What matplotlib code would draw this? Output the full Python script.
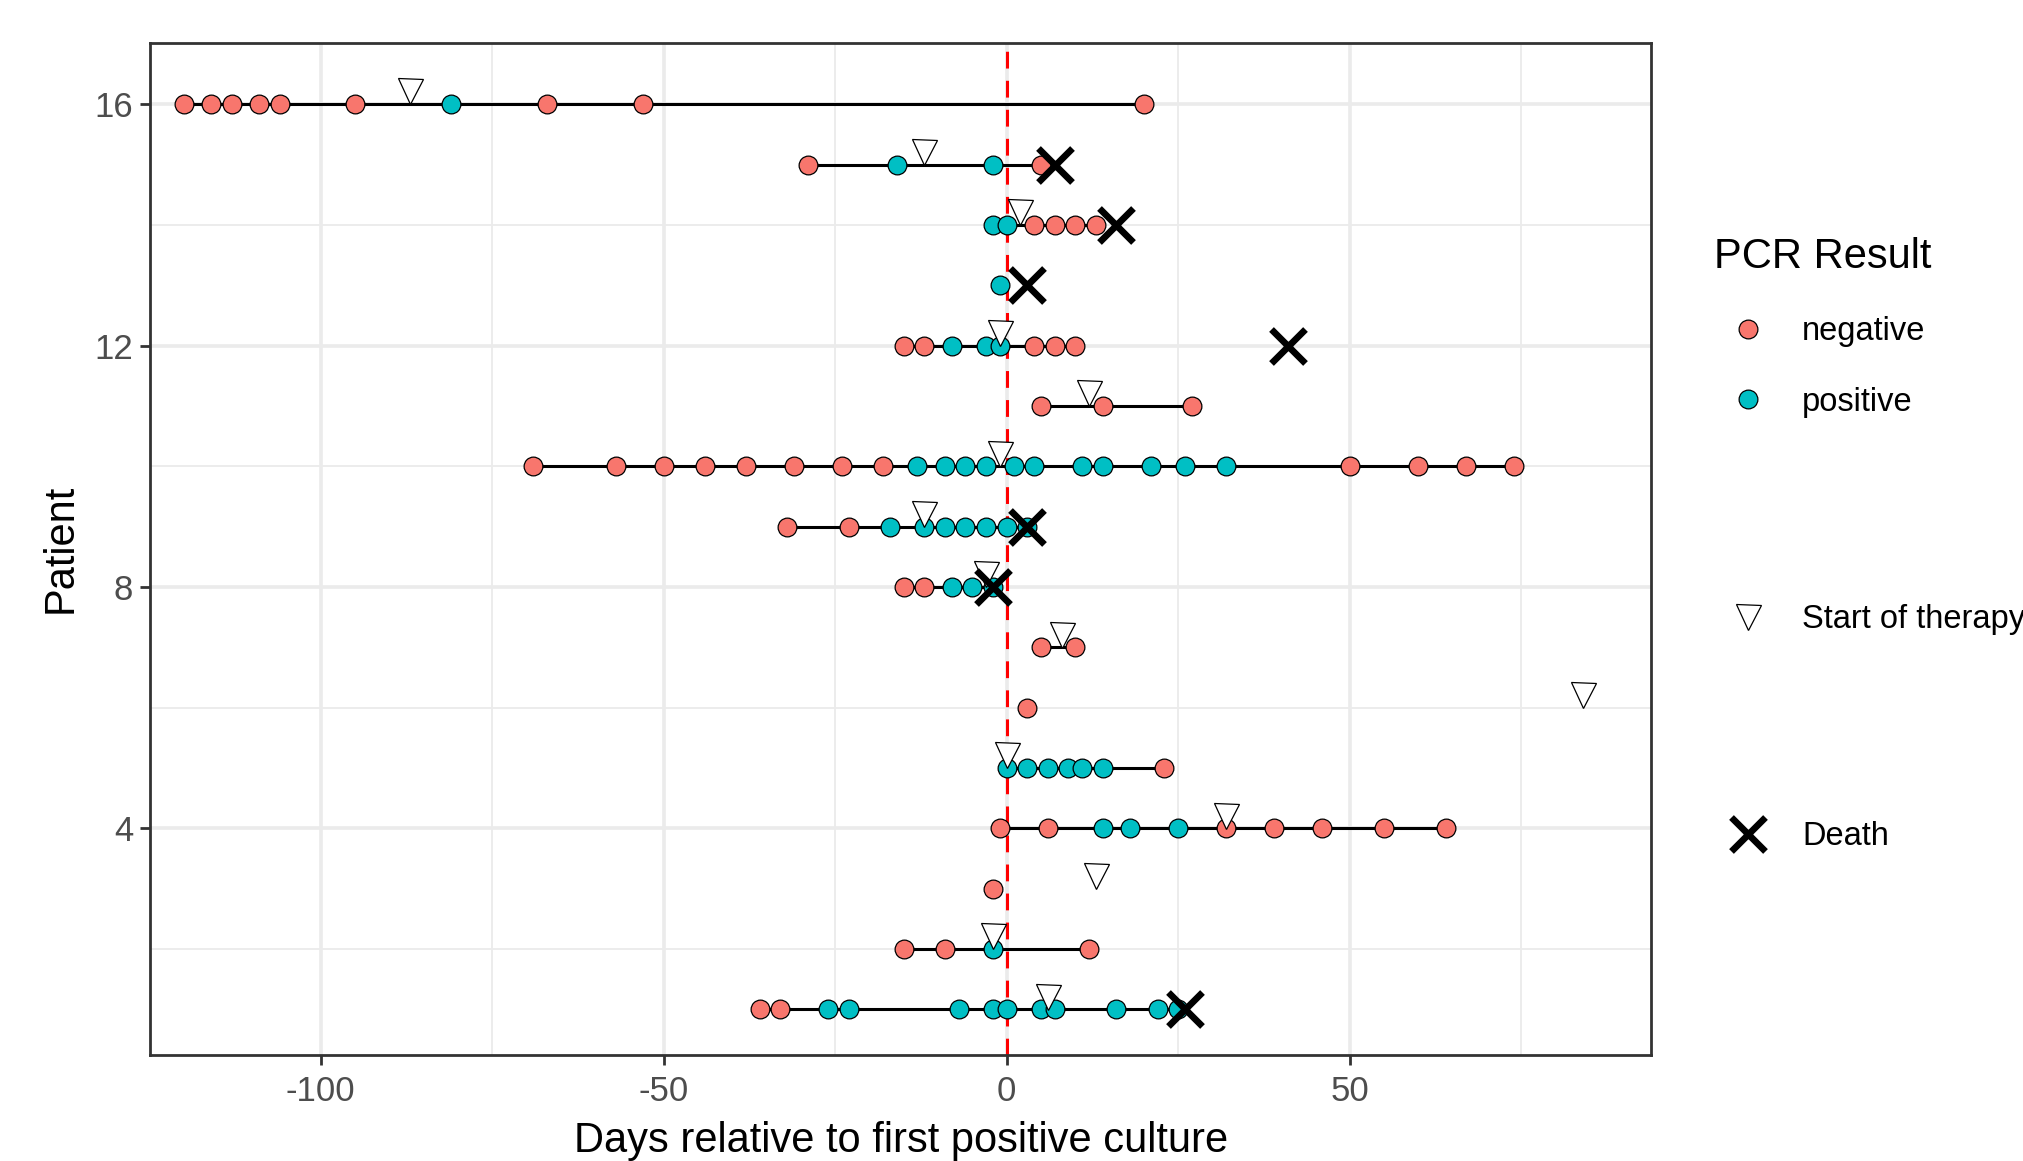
import numpy as np
import matplotlib.pyplot as plt
from matplotlib.lines import Line2D

plt.rcParams['font.family'] = ['Liberation Sans', 'DejaVu Sans']

# PCR tests, one row per test (long format)
pcr_patient = ([16] * 10 + [15] * 4 + [14] * 6 + [13] + [12] * 8 + [11] * 3
               + [10] * 23 + [9] * 9 + [8] * 5 + [7] * 2 + [6] + [5] * 7
               + [4] * 10 + [3] + [2] * 4 + [1] * 12)
pcr_day = [
    -120, -116, -113, -109, -106, -95, -81, -67, -53, 20,          # 16
    -29, -16, -2, 5,                                               # 15
    -2, 0, 4, 7, 10, 13,                                           # 14
    -1,                                                            # 13
    -15, -12, -8, -3, -1, 4, 7, 10,                                # 12
    5, 14, 27,                                                     # 11
    -69, -57, -50, -44, -38, -31, -24, -18, -13, -9, -6, -3, 1, 4,
    11, 14, 21, 26, 32, 50, 60, 67, 74,                            # 10
    -32, -23, -17, -12, -9, -6, -3, 0, 3,                          # 9
    -15, -12, -8, -5, -2,                                          # 8
    5, 10,                                                         # 7
    3,                                                             # 6
    0, 3, 6, 9, 11, 14, 23,                                        # 5
    -1, 6, 14, 18, 25, 32, 39, 46, 55, 64,                         # 4
    -2,                                                            # 3
    -15, -9, -2, 12,                                               # 2
    -36, -33, -26, -23, -7, -2, 0, 5, 7, 16, 22, 25,               # 1
]
N, P = 'negative', 'positive'
pcr_result = (
    [N] * 6 + [P] + [N] * 3
    + [N, P, P, N]
    + [P, P, N, N, N, N]
    + [P]
    + [N, N, P, P, P, N, N, N]
    + [N] * 3
    + [N] * 8 + [P] * 11 + [N] * 4
    + [N, N] + [P] * 7
    + [N, N, P, P, P]
    + [N, N]
    + [N]
    + [P] * 6 + [N]
    + [N, N, P, P, P, N, N, N, N, N]
    + [N]
    + [N, N, P, N]
    + [N, N] + [P] * 10
)

therapy_patient = [16, 15, 14, 12, 11, 10, 9, 8, 7, 6, 5, 4, 3, 2, 1]
therapy_day = [-87, -12, 2, -1, 12, -1, -12, -3, 8, 84, 0, 32, 13, -2, 6]

death_patient = [15, 14, 13, 12, 9, 8, 1]
death_day = [7, 16, 3, 41, 3, -2, 26]

colors = {'negative': '#F8766D', 'positive': '#00BFC4'}

pcr_patient = np.array(pcr_patient)
pcr_day = np.array(pcr_day)
pcr_result = np.array(pcr_result)

fig = plt.figure(figsize=(20.24, 11.61), dpi=100)
ax = fig.add_axes([0.0741, 0.0916, 0.7418, 0.8717])

# one line per patient spanning the tests
for p in np.unique(pcr_patient):
    d = np.sort(pcr_day[pcr_patient == p])
    ax.plot(d, np.full(len(d), p), color='black', lw=2.2, zorder=2)

for res in ['negative', 'positive']:
    m = pcr_result == res
    ax.plot(pcr_day[m], pcr_patient[m], 'o', ms=13.5, mfc=colors[res],
            mec='black', mew=0.9, zorder=3)

ax.axvline(0, color='red', lw=2.2, linestyle=(0, (5.5, 4)), zorder=2.5)

# triangles sit a little above the patient row
ax.plot(therapy_day, np.array(therapy_patient) + 0.21, 'v', ms=18,
        mfc='white', mec='black', mew=0.9, zorder=4)
ax.plot(death_day, death_patient, 'x', ms=24, color='black', mew=4.8, zorder=5)

ax.set_xlim(-124.9, 94.0)
ax.set_ylim(0.25, 17.02)
ax.set_xticks([-100, -50, 0, 50])
ax.set_xticklabels(['-100', '-50', '0', '50'])
ax.set_xticks([-75, -25, 25, 75], minor=True)
ax.set_yticks([4, 8, 12, 16])
ax.set_yticks([2, 6, 10, 14], minor=True)
ax.grid(which='major', color='#EBEBEB', lw=2.6)
ax.grid(which='minor', color='#EBEBEB', lw=1.3)
ax.set_axisbelow(True)
ax.tick_params(which='major', length=7, width=2, color='#333333',
               labelsize=25, labelcolor='#4D4D4D')
ax.tick_params(axis='x', pad=8)
ax.tick_params(axis='y', pad=5)
ax.tick_params(which='minor', length=0)
for s in ax.spines.values():
    s.set_color('#333333')
    s.set_linewidth(2)

ax.set_xlabel('Days relative to first positive culture', fontsize=30, labelpad=9)
ax.set_ylabel('Patient', fontsize=30, labelpad=10)

# legends: PCR result, start of therapy, death
pcr_handles = [Line2D([], [], marker='o', ls='', ms=13.5, mfc=colors[r],
                      mec='black', mew=0.9) for r in ['negative', 'positive']]
leg_kw = dict(frameon=False, fontsize=23.5, handlelength=2.1, handletextpad=0.6,
              borderpad=0, borderaxespad=0, loc='center left')
leg1 = fig.legend(pcr_handles, ['negative', 'positive'], title='PCR Result',
                  title_fontsize=30, alignment='left', labelspacing=1.2,
                  bbox_to_anchor=(1714 / 2024, 0.718), **leg_kw)
leg2 = fig.legend([Line2D([], [], marker='v', ls='', ms=18, mfc='white',
                          mec='black', mew=0.9)], ['Start of therapy'],
                  bbox_to_anchor=(1714 / 2024, 0.4664), **leg_kw)
leg3 = fig.legend([Line2D([], [], marker='x', ls='', ms=24, color='black',
                          mew=4.8)], ['Death'],
                  bbox_to_anchor=(1714 / 2024, 0.2795), **leg_kw)

fig.savefig('out.png', dpi=100)
